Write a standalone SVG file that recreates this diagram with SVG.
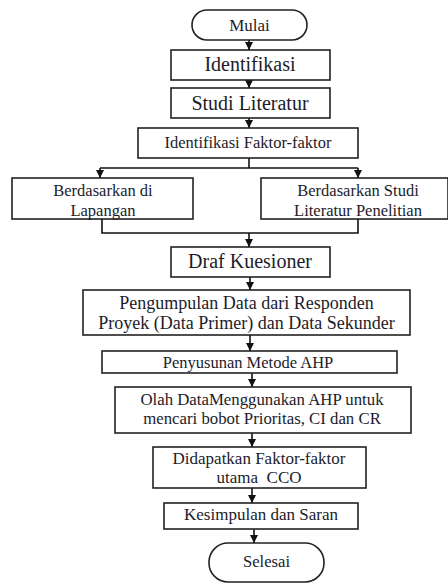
<svg xmlns="http://www.w3.org/2000/svg" width="448" height="583" viewBox="0 0 448 583">
<style>
.b{fill:#fff;stroke:#222;stroke-width:1.6}
.t{font-family:'Liberation Serif','DejaVu Serif',serif;fill:#1c1c2a;text-anchor:middle}
.l{fill:none;stroke:#111;stroke-width:1.6}
</style>
<defs>
<marker id="ah" viewBox="0 0 10 10" refX="10" refY="5" markerWidth="8" markerHeight="8" markerUnits="userSpaceOnUse" orient="auto">
<path d="M0,0 L10,5 L0,10 z" fill="#111"/>
</marker>
</defs>
<rect width="448" height="583" fill="#fff"/>
<g id="connectors">
<line class="l" x1="249" y1="40" x2="249" y2="50" marker-end="url(#ah)"/>
<line class="l" x1="249" y1="80" x2="249" y2="88" marker-end="url(#ah)"/>
<line class="l" x1="249" y1="118" x2="249" y2="128" marker-end="url(#ah)"/>
<polyline class="l" points="249,158 249,168"/>
<polyline class="l" points="100,168 358,168"/>
<line class="l" x1="100" y1="168" x2="100" y2="178" marker-end="url(#ah)"/>
<line class="l" x1="358" y1="168" x2="358" y2="178" marker-end="url(#ah)"/>
<polyline class="l" points="102,219 102,233 358,233 358,219"/>
<line class="l" x1="249" y1="233" x2="249" y2="247" marker-end="url(#ah)"/>
<line class="l" x1="250" y1="277" x2="250" y2="290" marker-end="url(#ah)"/>
<line class="l" x1="250" y1="335" x2="250" y2="351" marker-end="url(#ah)"/>
<line class="l" x1="252" y1="373" x2="252" y2="387" marker-end="url(#ah)"/>
<line class="l" x1="252" y1="433" x2="252" y2="447" marker-end="url(#ah)"/>
<line class="l" x1="252" y1="488" x2="252" y2="503" marker-end="url(#ah)"/>
<line class="l" x1="254" y1="529" x2="254" y2="543" marker-end="url(#ah)"/>
</g>
<g id="mulai"><rect class="b" x="192" y="10" width="115" height="30" rx="15"/><text class="t" x="249.5" y="31" font-size="17">Mulai</text></g>
<g id="identifikasi"><rect class="b" x="171" y="50" width="159" height="30"/><text class="t" x="250" y="71" font-size="20">Identifikasi</text></g>
<g id="studi"><rect class="b" x="171" y="88" width="159" height="30"/><text class="t" x="250" y="110" font-size="20">Studi Literatur</text></g>
<g id="faktor"><rect class="b" x="138" y="128" width="220" height="30"/><text class="t" x="248" y="148" font-size="16.5">Identifikasi Faktor-faktor</text></g>
<g id="lapangan"><rect class="b" x="12" y="178" width="181" height="41"/><text class="t" x="103" y="196" font-size="16.5">Berdasarkan di</text><text class="t" x="103" y="216" font-size="16.5">Lapangan</text></g>
<g id="literatur"><rect class="b" x="261" y="178" width="187" height="41"/><text class="t" x="358" y="196" font-size="16.5">Berdasarkan Studi</text><text class="t" x="358" y="216" font-size="16.5">Literatur Penelitian</text></g>
<g id="draf"><rect class="b" x="171" y="247" width="159" height="30"/><text class="t" x="250" y="268" font-size="20">Draf Kuesioner</text></g>
<g id="pengumpulan"><rect class="b" x="83" y="290" width="327" height="45"/><text class="t" x="246.5" y="309" font-size="18">Pengumpulan Data dari Responden</text><text class="t" x="246.5" y="329" font-size="18">Proyek (Data Primer) dan Data Sekunder</text></g>
<g id="penyusunan"><rect class="b" x="102" y="351" width="295" height="22"/><text class="t" x="248" y="368" font-size="16.5">Penyusunan Metode AHP</text></g>
<g id="olah"><rect class="b" x="115" y="387" width="296" height="46"/><text class="t" x="262" y="405" font-size="16.8">Olah DataMenggunakan AHP untuk</text><text class="t" x="262" y="424" font-size="16.8">mencari bobot Prioritas, CI dan CR</text></g>
<g id="didapatkan"><rect class="b" x="153" y="447" width="213" height="41"/><text class="t" x="259" y="464" font-size="17">Didapatkan Faktor-faktor</text><text class="t" x="259" y="483" font-size="17" style="white-space:pre">utama  CCO</text></g>
<g id="kesimpulan"><rect class="b" x="164" y="503" width="194" height="26"/><text class="t" x="261" y="520" font-size="17">Kesimpulan dan Saran</text></g>
<g id="selesai"><rect class="b" x="209" y="543" width="115" height="39" rx="19"/><text class="t" x="266.5" y="567" font-size="16.6">Selesai</text></g>
</svg>
